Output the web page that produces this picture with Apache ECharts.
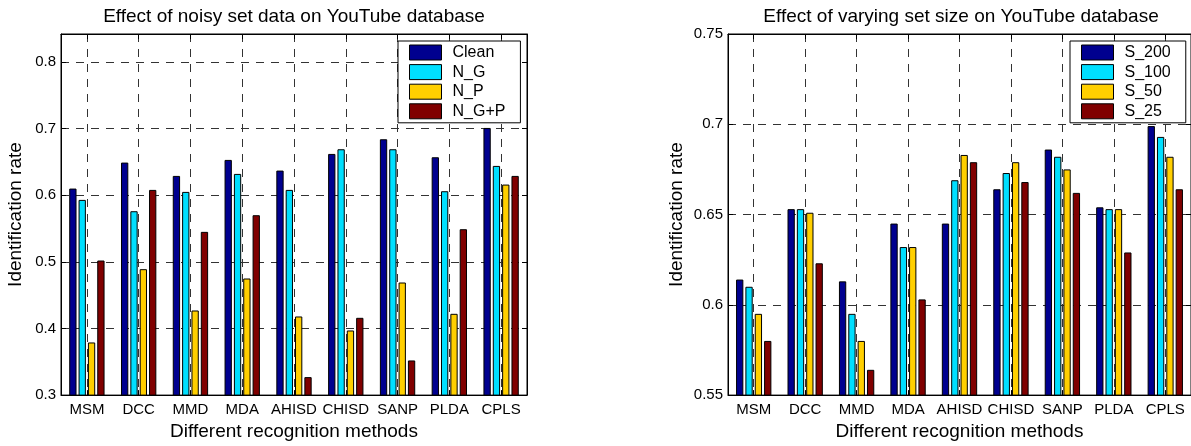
<!DOCTYPE html>
<html><head><meta charset="utf-8">
<script src="https://cdn.jsdelivr.net/npm/echarts@6/dist/echarts.min.js"></script>
<style>html,body{margin:0;padding:0;background:#fff}#c{width:1191px;height:446px}</style>
</head><body><div id="c"></div>
<script>
const categories = ['MSM','DCC','MMD','MDA','AHISD','CHISD','SANP','PLDA','CPLS'];
const noiseSeriesNames = ['Clean','N_G','N_P','N_G+P'];
const clean = [0.610,0.649,0.629,0.653,0.637,0.662,0.684,0.657,0.701];
const nG    = [0.593,0.576,0.605,0.632,0.608,0.669,0.669,0.606,0.644];
const nP    = [0.379,0.489,0.427,0.475,0.418,0.397,0.469,0.422,0.616];
const nGP   = [0.502,0.608,0.545,0.570,0.327,0.416,0.352,0.549,0.629];
const sizeSeriesNames = ['S_200','S_100','S_50','S_25'];
const s200 = [0.614,0.653,0.613,0.645,0.645,0.664,0.686,0.654,0.699];
const s100 = [0.610,0.653,0.595,0.632,0.669,0.673,0.682,0.653,0.693];
const s50  = [0.595,0.651,0.580,0.632,0.683,0.679,0.675,0.653,0.682];
const s25  = [0.580,0.623,0.564,0.603,0.679,0.668,0.662,0.629,0.664];
const leftTicks = ['0.3','0.4','0.5','0.6','0.7','0.8'];
const rightTicks = ['0.55','0.6','0.65','0.7','0.75'];

const FONT = 'Liberation Sans, Arial, Helvetica, sans-serif';
const colors = ['#00008F','#00DFFF','#FFCF00','#800000'];
const dash = {color:'#333', width:1, type:[8,7]};

function xAxes(gi, name){
  return [{
    type:'category', gridIndex:gi, data:categories, position:'bottom',
    axisLine:{show:true, lineStyle:{color:'#000', width:1}},
    axisTick:{show:true, inside:true, alignWithLabel:true, length:5, lineStyle:{color:'#000'}},
    axisLabel:{show:true, margin:7, fontSize:15, color:'#000', fontFamily:FONT, interval:0},
    splitLine:{show:true, alignWithLabel:true, lineStyle:dash},
    name:name, nameLocation:'middle', nameGap:35,
    nameTextStyle:{fontSize:19, color:'#000', fontFamily:FONT, verticalAlign:'middle'}
  },{
    type:'category', gridIndex:gi, data:categories, position:'top',
    axisLine:{show:true, lineStyle:{color:'#000', width:1}},
    axisTick:{show:true, inside:true, alignWithLabel:true, length:5, lineStyle:{color:'#000'}},
    axisLabel:{show:false}, splitLine:{show:false}
  }];
}
function yAxes(gi, min, max, interval, ticks, gap){
  const fmt = v => { const s = String(+(+v).toFixed(2)); return ticks.includes(s) ? s : ''; };
  return [{
    type:'value', gridIndex:gi, min:min, max:max, interval:interval, position:'left',
    axisLine:{show:true, lineStyle:{color:'#000', width:1}},
    axisTick:{show:true, inside:true, length:5, lineStyle:{color:'#000'}},
    axisLabel:{show:true, margin:5, fontSize:15, color:'#000', fontFamily:FONT, formatter:fmt},
    splitLine:{show:true, lineStyle:dash},
    name:'Identification rate', nameLocation:'middle', nameGap:gap,
    nameTextStyle:{fontSize:19, color:'#000', fontFamily:FONT, verticalAlign:'middle'}
  },{
    type:'value', gridIndex:gi, min:min, max:max, interval:interval, position:'right',
    axisLine:{show:true, lineStyle:{color:'#000', width:1}},
    axisTick:{show:true, inside:true, length:5, lineStyle:{color:'#000'}},
    axisLabel:{show:false}, splitLine:{show:false}
  }];
}
function bars(names, datas, xi, yi){
  return names.map((n,i)=>({
    name:n, type:'bar', xAxisIndex:xi, yAxisIndex:yi, data:datas[i],
    barWidth:7.3, barGap:'28%',
    itemStyle:{color:colors[i], borderColor:'#000', borderWidth:1},
    emphasis:{disabled:true}, animation:false
  }));
}
function legend(names, left){
  return {
    data:names, orient:'vertical', left:left, top:41,
    itemWidth:32, itemHeight:15, itemGap:3.6,
    padding:[3.5,15,3.5,11],
    backgroundColor:'#fff', borderColor:'#000', borderWidth:1, borderRadius:0,
    icon:'rect', selectedMode:false,
    itemStyle:{borderColor:'#000', borderWidth:1},
    textStyle:{fontSize:16, color:'#000', fontFamily:FONT, padding:[0,0,0,6]}
  };
}

const chart = echarts.init(document.getElementById('c'), null, {renderer:'canvas'});
chart.setOption({
  animation:false,
  backgroundColor:'#fff',
  title:[
    {text:'Effect of noisy set data on YouTube database', left:294, top:7, textAlign:'center', padding:0,
     textStyle:{fontSize:19, fontWeight:'normal', color:'#000', fontFamily:FONT}},
    {text:'Effect of varying set size on YouTube database', left:961, top:7, textAlign:'center', padding:0,
     textStyle:{fontSize:19, fontWeight:'normal', color:'#000', fontFamily:FONT}}
  ],
  grid:[
    {left:61, top:34, width:466, height:366, show:true, borderColor:'#000', borderWidth:1, backgroundColor:'#fff'},
    {left:728, top:34, width:466, height:366, show:true, borderColor:'#000', borderWidth:1, backgroundColor:'#fff'}
  ],
  legend:[legend(noiseSeriesNames, 398), legend(sizeSeriesNames, 1070)],
  xAxis:[...xAxes(0,'Different recognition methods'), ...xAxes(1,'Different recognition methods')],
  yAxis:[...yAxes(0,0.3,0.842,0.1,leftTicks,45), ...yAxes(1,0.55,0.75,0.05,rightTicks,51)],
  series:[...bars(noiseSeriesNames,[clean,nG,nP,nGP],0,0), ...bars(sizeSeriesNames,[s200,s100,s50,s25],2,2)]
});
</script></body></html>
